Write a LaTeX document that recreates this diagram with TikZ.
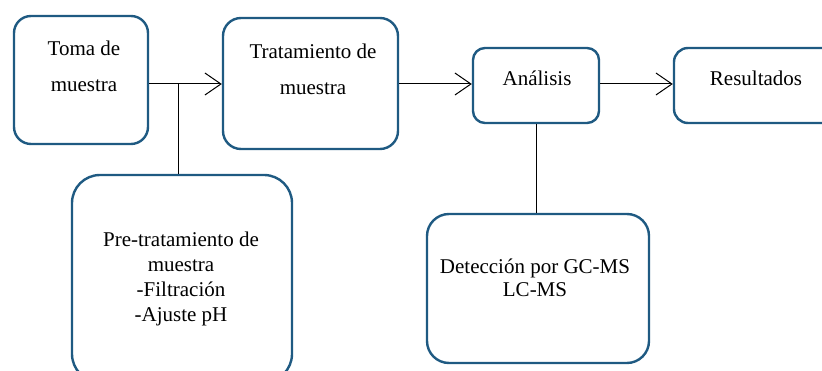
\documentclass[tikz,border=0pt]{standalone}
\usepackage{fontspec}
\setmainfont{Liberation Serif}
\usetikzlibrary{arrows.meta}
\definecolor{boxblue}{RGB}{31,90,130}
\begin{document}
\begin{tikzpicture}[x=1pt,y=-1pt,
  box/.style={draw=boxblue, line width=2.4pt, inner sep=0pt},
  txt/.style={align=center, inner sep=0pt, font=\fontsize{21}{25}\selectfont},
  conn/.style={draw=black, line width=1pt},
  arr/.style={conn, -{Straight Barb[length=16pt,width=22pt,line width=1pt]}}]
\useasboundingbox (0,0) rectangle (822,371);
\clip (0,0) rectangle (822,371);
% boxes
\node[box, rounded corners=17pt, minimum width=134pt, minimum height=128pt] (toma) at (81,80) {};
\node[box, rounded corners=18pt, minimum width=175pt, minimum height=131pt] (trat) at (310.5,83.5) {};
\node[box, rounded corners=12pt, minimum width=126pt, minimum height=75pt] (anal) at (536,85.5) {};
\node[box, rounded corners=14pt, minimum width=164pt, minimum height=75pt] (res) at (756,85.5) {};
\node[box, rounded corners=28pt, minimum width=220pt, minimum height=207pt] (pre) at (182,278.5) {};
\node[box, rounded corners=22pt, minimum width=222pt, minimum height=149pt] (det) at (538,288.5) {};
% texts
\node[txt, font=\fontsize{21}{36}\selectfont] (tomat) at (84,66) {Toma de\\muestra};
\node[txt, font=\fontsize{21}{36}\selectfont] (tratt) at (313,69) {Tratamiento de\\muestra};
\node[txt] (analt) at (537,78) {Análisis};
\node[txt] (rest) at (756,78) {Resultados};
\node[txt, font=\fontsize{21}{25}\selectfont] (pret) at (181,279) {Pre-tratamiento de\\muestra\\-Filtración\\-Ajuste pH};
\node[txt, font=\fontsize{21}{23}\selectfont] (dett) at (535,278) {Detección por GC-MS\\LC-MS};
% connectors
\coordinate (row) at (0,84);
\coordinate (br) at (178,84);
\draw[arr] (toma.east |- row) -- (trat.west |- row);
\draw[conn] (br) -- (br |- pre.north);
\draw[arr] (trat.east |- row) -- (anal.west |- row);
\draw[arr] (anal.east |- row) -- (res.west |- row);
\draw[conn] (anal.south) -- (anal.south |- det.north);
\end{tikzpicture}
\end{document}
